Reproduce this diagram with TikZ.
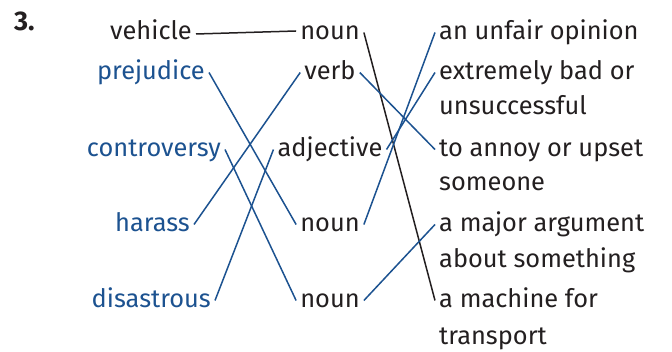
\documentclass[tikz,border=0pt]{standalone}
\usepackage{fontspec}
\setmainfont{Fira Sans}
\definecolor{wordblue}{HTML}{1C5290}
\definecolor{ink}{HTML}{231F20}
\begin{document}
\begin{tikzpicture}[x=1pt,y=-1pt,
  every node/.style={font=\fontsize{25.4}{30}\selectfont, text=ink, inner ysep=0pt, inner xsep=4pt, text height=19pt, text depth=4pt},
  blueword/.style={text=wordblue},
  leftword/.style={anchor=base east},
  midword/.style={anchor=base},
  rightword/.style={anchor=base west},
  blackline/.style={draw=ink, line width=1.5pt},
  blueline/.style={draw=wordblue, line width=1.5pt}]
\useasboundingbox (0,0) rectangle (672,352);
\node[anchor=base west, font=\fontsize{27}{30}\selectfont\bfseries, inner xsep=0pt] (num) at (14,31) {3.};
% left column
\node[leftword] (vehicle) at (196,40) {vehicle};
\node[leftword, blueword] (prejudice) at (209,80) {prejudice};
\node[leftword, blueword] (controversy) at (225,157) {controversy};
\node[leftword, blueword] (harass) at (194,232) {harass};
\node[leftword, blueword] (disastrous) at (215,308) {disastrous};
% middle column
\node[midword] (noun1) at (330,40) {noun};
\node[midword] (verb) at (330,80) {verb};
\node[midword] (adjective) at (330,157) {adjective};
\node[midword] (noun4) at (330,232) {noun};
\node[midword] (noun5) at (330,308) {noun};
% right column
\node[rightword] (opinion) at (435,40) {an unfair opinion};
\node[rightword] (bad) at (435,80) {extremely bad or};
\node[rightword] (bad2) at (435,115) {unsuccessful};
\node[rightword] (annoy) at (435,157) {to annoy or upset};
\node[rightword] (annoy2) at (435,191) {someone};
\node[rightword] (argument) at (435,232) {a major argument};
\node[rightword] (argument2) at (435,268) {about something};
\node[rightword] (machine) at (435,308) {a machine for};
\node[rightword] (machine2) at (435,345) {transport};
% connectors
\draw[blackline] ([yshift=-1.5pt]vehicle.east) -- ([yshift=1.5pt]noun1.west);
\draw[blackline] (noun1.east) -- (machine.west);
\draw[blueline] (prejudice.east) -- (noun4.west);
\draw[blueline] (harass.east) -- (verb.west);
\draw[blueline] (controversy.east) -- (noun5.west);
\draw[blueline] (disastrous.east) -- (adjective.west);
\draw[blueline] (verb.east) -- (annoy.west);
\draw[blueline] (adjective.east) -- (bad.west);
\draw[blueline] (noun4.east) -- (opinion.west);
\draw[blueline] (noun5.east) -- (argument.west);
\end{tikzpicture}
\end{document}
